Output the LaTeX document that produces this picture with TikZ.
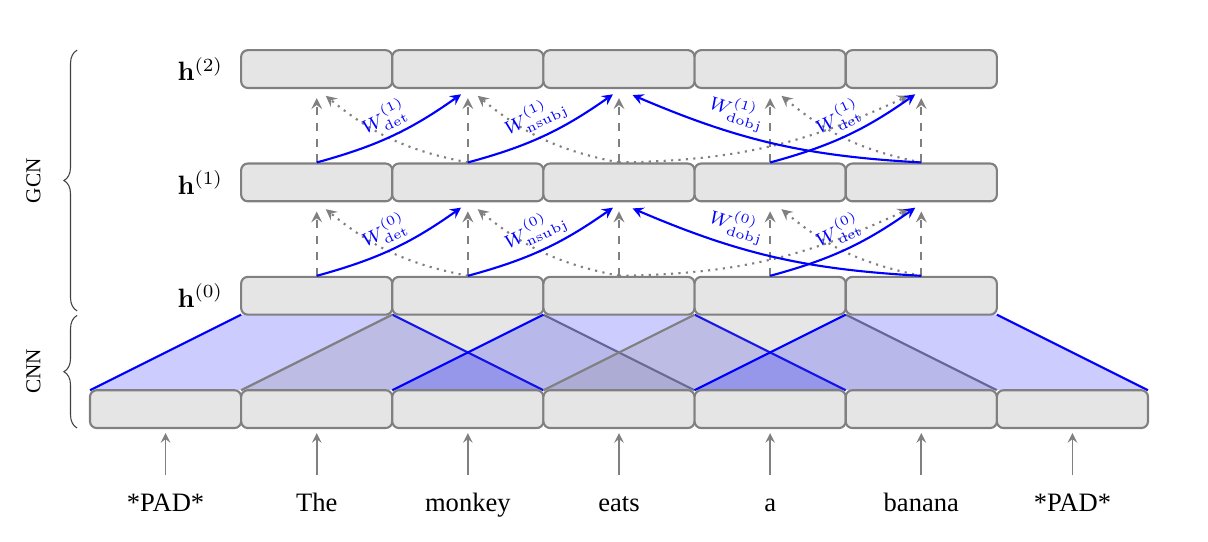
\documentclass[tikz,border=0pt]{standalone}
\usepackage[no-math]{fontspec}
\setmainfont{Liberation Serif}
\usepackage{amsmath}
\usepackage{tikz}
\usetikzlibrary{positioning, calc, decorations.pathreplacing}

\tikzset{
  vec/.style={draw=gray, thick, fill=gray!20, rounded corners=2.5pt,
    minimum width=2cm, minimum height=0.5cm, inner sep=0pt},
  selfarc/.style={->, >=stealth, gray, thick, dashed},
  revarc/.style={->, >=stealth, gray, thick, dotted},
  deparc/.style={->, >=stealth, blue, thick},
  wlab/.style={font=\scriptsize, text=blue, sloped, above, inner sep=2pt},
}

\begin{document}
\begin{tikzpicture}
    \useasboundingbox (-1.191,-1.495) rectangle (14.794,5.664);

    % convolution windows
    \foreach \k/\col in {1/blue, 2/gray, 3/blue, 4/gray, 5/blue} {
        \fill[\col, fill opacity=0.2] (2*\k-2,0.5) -- (2*\k,1.5) -- (2*\k+2,1.5) -- (2*\k+4,0.5) -- cycle;
        \draw[\col, thick] (2*\k-2,0.5) -- (2*\k,1.5) (2*\k+2,1.5) -- (2*\k+4,0.5);
    }

    % words and embeddings
    \foreach \w [count=\i] in {*PAD*, The, monkey, eats, a, banana, *PAD*} {
        \node[vec] at (2*\i-1, 0.25) (e\i) {};
        \node[anchor=base, text height=2ex, text depth=0.5ex] at (2*\i-1, -1.11) (w\i) {\w};
        \draw[->, >=stealth, gray, semithick, shorten <=1pt, shorten >=1.5pt] (w\i) -- (e\i);
    }

    % hidden layers
    \foreach \lay/\y in {0/1.75, 1/3.25, 2/4.75} {
        \foreach \i in {1,...,5}
            \node[vec] at (2*\i+1, \y) (h\lay-\i) {};
        \node[left=0.1cm of h\lay-1] (lab\lay) {$\mathbf{h}^{(\lay)}$};
    }

    % graph convolutions
    \foreach \lay [evaluate=\lay as \nxt using int(\lay+1)] in {0,1} {
        \foreach \i in {1,...,5}
            \draw[selfarc] (h\lay-\i.north) -- ($(h\nxt-\i.south)+(0,-0.12)$);

        \draw[revarc] (h\lay-2.north) to[bend left=14] ($(h\nxt-1.south)+(0.12,-0.09)$);
        \draw[revarc] (h\lay-3.north) to[bend left=14] ($(h\nxt-2.south)+(0.13,-0.09)$);
        \draw[revarc] (h\lay-3.north) to[bend right=12] ($(h\nxt-5.south)+(-0.17,-0.09)$);
        \draw[revarc] (h\lay-5.north) to[bend left=14] ($(h\nxt-4.south)+(0.15,-0.09)$);

        \draw[deparc] (h\lay-1.north) to[bend right=10]
            node[wlab] {$W^{(\lay)}_{\mathrm{det}}$} ($(h\nxt-2.south)+(-0.09,-0.07)$);
        \draw[deparc] (h\lay-2.north) to[bend right=10]
            node[wlab] {$W^{(\lay)}_{\mathrm{nsubj}}$} ($(h\nxt-3.south)+(-0.08,-0.07)$);
        \draw[deparc] (h\lay-5.north) to[bend left=10]
            node[wlab, pos=0.66] {$W^{(\lay)}_{\mathrm{dobj}}$} ($(h\nxt-3.south)+(0.18,-0.08)$);
        \draw[deparc] (h\lay-4.north) to[bend right=10]
            node[wlab] {$W^{(\lay)}_{\mathrm{det}}$} ($(h\nxt-5.south)+(-0.08,-0.07)$);
    }

    % braces
    \draw[black!75, decorate, decoration={brace, amplitude=5pt}] (-0.17,1.55) -- (-0.17,5.0);
    \draw[black!75, decorate, decoration={brace, amplitude=5pt}] (-0.17,0) -- (-0.17,1.49);
    \node[rotate=90, font=\footnotesize] at (-0.75,3.27) (gcn) {GCN};
    \node[rotate=90, font=\footnotesize] at (-0.75,0.75) (cnn) {CNN};
\end{tikzpicture}
\end{document}
